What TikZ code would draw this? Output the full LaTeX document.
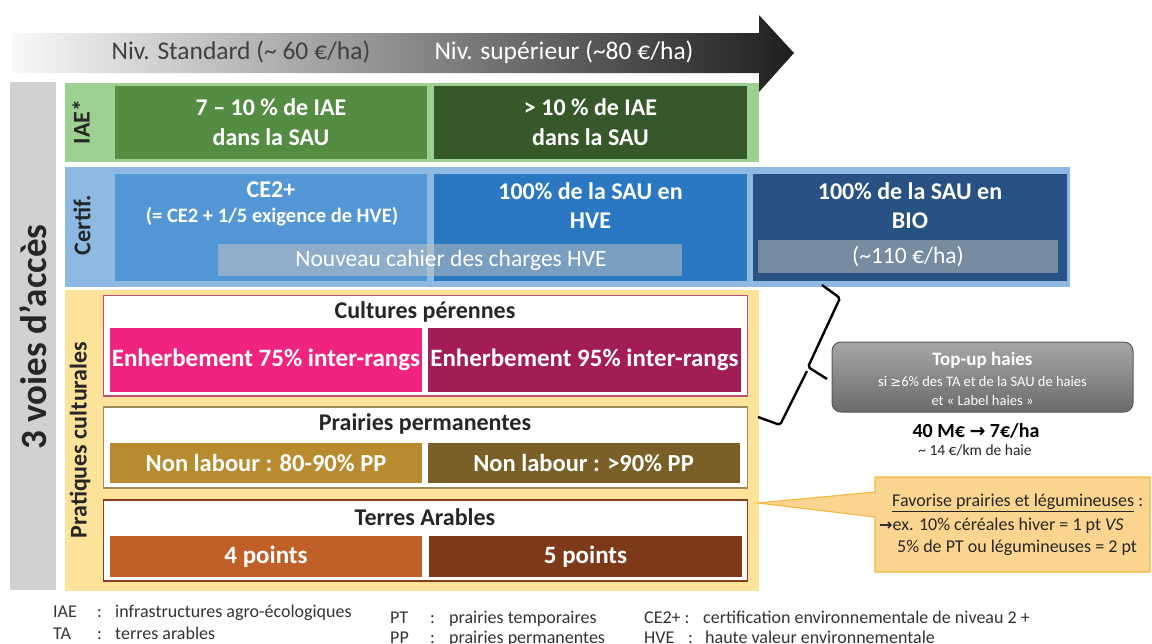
\documentclass[tikz,border=0pt]{standalone}
\usepackage{fontspec}
\setmainfont{Carlito}
\newfontfamily\dejavu{DejaVu Sans}
\definecolor{grayBar}{HTML}{D0D1D3}
\definecolor{iaeBand}{HTML}{9DD192}
\definecolor{iaeA}{HTML}{548C42}
\definecolor{iaeB}{HTML}{37592A}
\definecolor{certBand}{HTML}{8DB9E3}
\definecolor{certA}{HTML}{5397D5}
\definecolor{certB}{HTML}{2A78C2}
\definecolor{certC}{HTML}{275283}
\definecolor{ovl}{HTML}{C8C4C0}
\definecolor{pratBand}{HTML}{FDE29A}
\definecolor{cpBorder}{HTML}{C0507A}
\definecolor{cpA}{HTML}{EE2480}
\definecolor{cpB}{HTML}{A21C56}
\definecolor{ppBorder}{HTML}{9A8A5E}
\definecolor{ppA}{HTML}{B88B2E}
\definecolor{ppB}{HTML}{7A6027}
\definecolor{taBorder}{HTML}{8B3E1E}
\definecolor{taA}{HTML}{C15F29}
\definecolor{taB}{HTML}{7E3A18}
\definecolor{callFill}{HTML}{FBD590}
\definecolor{callLine}{HTML}{F6B73A}
\definecolor{txtDark}{HTML}{262626}
\definecolor{legTxt}{HTML}{333333}
\newcommand\fsz[2]{\fontsize{#1}{#2}\selectfont}
\begin{document}
\begin{tikzpicture}[x=1pt,y=-1pt,
  cell/.style={inner sep=0pt, minimum width=#1, text=white, align=center, font=\bfseries\fsz{24}{30}},
  sidelabel/.style={rotate=90, text=txtDark, font=\bfseries\fsz{24}{26}},
  subframe/.style={fill=white, line width=1.2pt},
  title/.style={text=txtDark, font=\bfseries\fsz{24}{26}},
  legend/.style={anchor=base west, text=legTxt, font=\fsz{18}{20}, inner sep=0pt},
  overlay/.style={fill=ovl, fill opacity=0.5, inner sep=0pt}]
\useasboundingbox (0,0) rectangle (1152,643);
% top arrow
\shade[left color=white!95!gray, middle color=black!47, right color=black!88]
  (12,33) -- (759,33) -- (759,15) -- (794,53) -- (759,92) -- (759,73) -- (12,73) -- cycle;
\node[text=black!75, font=\fsz{25.5}{28}] (std) at (241,52) {Niv. Standard (\textasciitilde{} 60 €/ha)};
\node[text=white, font=\fsz{25.5}{28}] (sup) at (564,52) {Niv. supérieur (\textasciitilde80 €/ha)};
% left gray bar
\fill[grayBar] (10,82) rectangle (56,590);
\node[rotate=90, text=txtDark, font=\bfseries\fsz{37}{40}] (voies) at (33,337) {3 voies d’accès};
% IAE band
\fill[iaeBand] (65,83) rectangle (759,162);
\node[sidelabel] (iae) at (81,122) {IAE*};
\node[cell=312pt, minimum height=73pt, fill=iaeA] (iae1) at (271,122.5) {7 – 10 \% de IAE\\dans la SAU};
\node[cell=313pt, minimum height=73pt, fill=iaeB] (iae2) at (590.5,122.5) {> 10 \% de IAE\\dans la SAU};
% Certif band
\fill[certBand] (65,167) rectangle (1070,287);
\node[sidelabel] (cert) at (82,225) {Certif.};
\node[cell=312pt, minimum height=107pt, fill=certA] (c1) at (271,227.5) {};
\node[cell=313pt, minimum height=107pt, fill=certB] (c2) at (590.5,227.5) {};
\node[cell=314pt, minimum height=107pt, fill=certC] (c3) at (910,227.5) {};
\node[text=white, font=\bfseries\fsz{24}{26}] (ce2) at (271,190) {CE2+};
\node[text=white, font=\bfseries\fsz{20.5}{23}] (ce2b) at (272,217) {(= CE2 + 1/5 exigence de HVE)};
\node[text=white, align=center, font=\bfseries\fsz{24}{29}] (hve) at (590.5,205.5) {100\% de la SAU en\\HVE};
\node[text=white, align=center, font=\bfseries\fsz{24}{29}] (bio) at (910,205.5) {100\% de la SAU en\\BIO};
\node[overlay, minimum width=464pt, minimum height=32pt] (nc) at (450,260) {};
\node[text=white, font=\fsz{23.5}{26}] (nct) at (451,260) {Nouveau cahier des charges HVE};
\node[overlay, minimum width=300pt, minimum height=33pt] (p110) at (908,256.5) {};
\node[text=white, font=\fsz{23.5}{26}] (p110t) at (908,256.5) {(\textasciitilde110 €/ha)};
% Pratiques band
\fill[pratBand] (65,290) rectangle (759,591);
\node[sidelabel] (prat) at (80,440) {Pratiques culturales};
% Cultures perennes
\draw[subframe, draw=cpBorder] (103.5,295.5) rectangle (747.5,396);
\node[title] (cpt) at (425,312) {Cultures pérennes};
\node[cell=312pt, minimum height=64pt, fill=cpA, font=\bfseries\fsz{25}{28}] (cp1) at (266,360) {Enherbement 75\% inter-rangs};
\node[cell=313pt, minimum height=64pt, fill=cpB, font=\bfseries\fsz{25}{28}] (cp2) at (584.5,360) {Enherbement 95\% inter-rangs};
% Prairies permanentes
\draw[subframe, draw=ppBorder] (103.5,407) rectangle (747.5,488);
\node[title] (ppt) at (425,424) {Prairies permanentes};
\node[cell=312pt, minimum height=40pt, fill=ppA, font=\bfseries\fsz{24.5}{28}] (pp1) at (266,463) {Non labour : 80-90\% PP};
\node[cell=312pt, minimum height=40pt, fill=ppB, font=\bfseries\fsz{24.5}{28}] (pp2) at (583.5,463) {Non labour : >90\% PP};
% Terres arables
\draw[subframe, draw=taBorder] (103.5,500) rectangle (747.5,581);
\node[title] (tat) at (425,517) {Terres Arables};
\node[cell=312pt, minimum height=41pt, fill=taA, font=\bfseries\fsz{25}{28}] (ta1) at (266,556.5) {4 points};
\node[cell=313pt, minimum height=41pt, fill=taB, font=\bfseries\fsz{25}{28}] (ta2) at (585.5,556.5) {5 points};
% brace
\coordinate (bt) at (822,285);
\coordinate (bb) at (758,417);
\draw[line width=2.4pt, rounded corners=2pt, line join=round] (bt) -- (840,298) -- (808,367) -- (827,379);
\draw[line width=2.4pt, rounded corners=2pt, line join=round] (807,371) -- (780,425) -- (bb);
% Top-up box
\node[draw=black!65, line width=1pt, rounded corners=9pt, top color=black!35, bottom color=black!58,
  minimum width=301pt, minimum height=70pt, inner sep=0pt] (topup) at (982.5,377) {};
\node[text=white, font=\bfseries\fsz{19}{21}] (tu1) at (982.5,360) {Top-up haies};
\node[text=white, font=\fsz{14.5}{16}] (tu2) at (982.5,381.5) {si {\dejavu\fsz{13}{15}≥}6\% des TA et de la SAU de haies};
\node[text=white, font=\fsz{14.5}{16}] (tu3) at (982.5,400.5) {et « Label haies »};
\node[text=black, font=\bfseries\fsz{20}{22}] (m40) at (976,431) {40 M€ {\dejavu\bfseries\fsz{19}{22}→} 7€/ha};
\node[text=txtDark, font=\fsz{15.5}{17}] (km) at (975,450) {\textasciitilde{} 14 €/km de haie};
% callout
\coordinate (ctip) at (758,503);
\draw[fill=callFill, draw=callLine, line width=1.1pt, line join=miter]
  (875,477) -- (1150,477) -- (1150,572) -- (875,572) -- (875,517) -- (ctip) -- (875,492) -- cycle;
\node[anchor=west, inner sep=0pt, text=txtDark, font=\fsz{18}{20}] (f1) at (892,503) {\underline{Favorise prairies et légumineuses} :};
\node[anchor=west, inner sep=0pt, text=txtDark, font=\fsz{18}{20}] (f2) at (879,525.5) {{\dejavu\bfseries\fsz{16}{20}→}ex. 10\% céréales hiver = 1 pt \textit{VS}};
\node[anchor=west, inner sep=0pt, text=txtDark, font=\fsz{18}{20}] (f3) at (897,547.5) {5\% de PT ou légumineuses = 2 pt};
% legend
\node[legend] (l1a) at (53,617) {IAE};
\node[legend] (l1b) at (97,617) {:};
\node[legend] (l1c) at (115,617) {infrastructures agro-écologiques};
\node[legend] (l2a) at (53,639) {TA};
\node[legend] (l2b) at (97,639) {:};
\node[legend] (l2c) at (115,639) {terres arables};
\node[legend] (l3a) at (390,623) {PT};
\node[legend] (l3b) at (430,623) {:};
\node[legend] (l3c) at (449,623) {prairies temporaires};
\node[legend] (l4a) at (390,643) {PP};
\node[legend] (l4b) at (430,643) {:};
\node[legend] (l4c) at (449,643) {prairies permanentes};
\node[legend] (l5a) at (644,623) {CE2+ :};
\node[legend] (l5c) at (703,623) {certification environnementale de niveau 2 +};
\node[legend] (l6a) at (644,643) {HVE};
\node[legend] (l6b) at (688,643) {:};
\node[legend] (l6c) at (705,643) {haute valeur environnementale};
\end{tikzpicture}
\end{document}
